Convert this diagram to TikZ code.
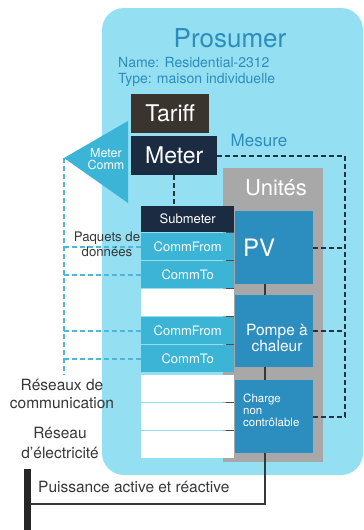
\documentclass[tikz,border=0pt]{standalone}
\usepackage{fontspec}
\setmainfont{TeX Gyre Heros}

\definecolor{prosumerbg}{RGB}{148,224,242}
\definecolor{commcyan}{RGB}{60,180,214}
\definecolor{unitblue}{RGB}{44,141,191}
\definecolor{tariffbrown}{RGB}{58,52,47}
\definecolor{meternavy}{RGB}{27,44,66}
\definecolor{unitgray}{RGB}{168,168,168}
\definecolor{titleblue}{RGB}{46,140,187}
\definecolor{textgray}{RGB}{55,55,55}
\definecolor{dashdark}{RGB}{40,50,62}
\definecolor{dashcyan}{RGB}{80,184,214}

\tikzset{
  blk/.style={anchor=north west, inner sep=0pt, text=white},
  commbox/.style={blk, fill=commcyan, minimum width=93pt, minimum height=27pt,
    font=\fontsize{13}{15}\selectfont},
  whitebox/.style={blk, fill=white, minimum width=93pt, minimum height=27pt},
  unitbox/.style={blk, fill=unitblue, minimum width=78pt},
  mesdash/.style={dashdark, line width=1.7pt, dash pattern=on 5pt off 3pt},
  commdash/.style={dashcyan, line width=1.7pt, dash pattern=on 5pt off 3pt},
  powerline/.style={textgray, line width=1.7pt},
  tick/.style={gray!60!black, line width=1pt},
  lbl/.style={text=textgray, align=center}
}

\begin{document}
\begin{tikzpicture}[x=1pt,y=-1pt]
\useasboundingbox (0,0) rectangle (364,530);

%draw prosumer background
\fill[prosumerbg, rounded corners=22pt] (102,8) rectangle (363,475);
\node[text=titleblue, font=\fontsize{26}{30}\selectfont] (title) at (230,38) {Prosumer};
\node[text=titleblue, anchor=west, inner sep=0pt, font=\fontsize{14}{16}\selectfont] (name) at (118,63) {Name: Residential-2312};
\node[text=titleblue, anchor=west, inner sep=0pt, font=\fontsize{14}{16}\selectfont] (type) at (118,80) {Type: maison individuelle};

%draw units background
\fill[unitgray] (223,168) rectangle (323,462);
\node[text=white, font=\fontsize{22}{26}\selectfont] (unites) at (276,188) {Unités};

%draw meter comm triangle
\coordinate (mc) at (64,158);
\fill[commcyan] (mc) -- (128,121) -- (128,203) -- cycle;
\node[text=white, align=center, inner sep=0pt, font=\fontsize{12.5}{12}\selectfont] (mctxt) at (106,159) {Meter\\Comm};

%draw tariff and meter
\node[blk, fill=tariffbrown, minimum width=78pt, minimum height=39pt, font=\fontsize{23}{26}\selectfont] (tariff) at (131,94) {Tariff};
\node[blk, fill=meternavy, minimum width=86pt, minimum height=39pt, font=\fontsize{23}{26}\selectfont] (meter) at (131,136) {Meter};
\node[text=titleblue, font=\fontsize{17}{20}\selectfont] (mesure) at (259,140) {Mesure};

%draw comm column
\node[blk, fill=meternavy, minimum width=93pt, minimum height=26pt, font=\fontsize{13}{15}\selectfont] (sub) at (141,206) {Submeter};
\node[commbox] (cfA) at (141,233) {CommFrom};
\node[commbox] (ctA) at (141,261) {CommTo};
\node[whitebox] (wA) at (141,289) {};
\node[commbox] (cfB) at (141,317) {CommFrom};
\node[commbox] (ctB) at (141,345) {CommTo};
\node[whitebox] (wB) at (141,375) {};
\node[whitebox] (wC) at (141,403) {};
\node[whitebox] (wD) at (141,431) {};

\foreach \n in {sub,cfA,ctA,wA,cfB,wB,wC}
\draw[tick] (\n.south east) -- ++(-8,0);

%draw units
\node[unitbox, minimum height=73pt, font=\fontsize{24}{28}\selectfont, align=left, text width=62pt, inner xsep=8pt] (pv) at (235,211) {PV};
\node[unitbox, minimum height=72pt] (pompe) at (235,295) {};
\node[text=white, align=center, font=\fontsize{15.5}{16.5}\selectfont] (pompetxt) at (277,338) {Pompe à\\chaleur};
\node[unitbox, minimum height=73pt] (charge) at (235,380) {};
\node[text=white, align=left, anchor=west, inner sep=0pt, font=\fontsize{11.5}{12}\selectfont] (chargetxt) at (243,410) {Charge\\non\\contrôlable};

%draw mesure lines
\coordinate (mesR) at (345,153);
\draw[mesdash] (meter.east) -- (meter.east -| mesR) -- (charge.east -| mesR) -- (charge.east);
\draw[mesdash] (pv.east) -- (pv.east -| mesR);
\draw[mesdash] (pompe.east) -- (pompe.east -| mesR);
\draw[mesdash] (meter.south) -- (meter.south |- sub.north);

%draw communication lines
\coordinate (commB) at (64,375);
\draw[commdash] (mc) -- (commB);
\foreach \n in {cfA,ctA,cfB,ctB}
\draw[commdash] (\n.west) -- (\n.west -| mc);
\node[lbl, inner sep=0pt, font=\fontsize{13.2}{15}\selectfont] (paquets) at (107,244) {Paquets de\\données};

%draw power lines
\coordinate (pw) at (265,504);
\coordinate (gtop) at (27,469);
\coordinate (gbot) at (27,530);
\draw[powerline] (pv.south -| pw) -- (pompe.north -| pw);
\draw[powerline] (pompe.south -| pw) -- (charge.north -| pw);
\draw[powerline] (charge.south -| pw) -- (pw) -- (gtop |- pw);
\draw[line width=7pt, color=black!85] (gtop) -- (gbot);
\node[text=textgray, anchor=west, inner sep=0pt, font=\fontsize{15.5}{18}\selectfont] (puissance) at (38,487) {Puissance active et réactive};

%draw network labels
\node[lbl, inner sep=0pt, font=\fontsize{15.5}{18}\selectfont] (reseauxcomm) at (62,394) {Réseaux de\\communication};
\node[lbl, inner sep=0pt, font=\fontsize{15.5}{19.5}\selectfont] (reseauelec) at (60,443) {Réseau\\d'électricité};
\end{tikzpicture}
\end{document}
